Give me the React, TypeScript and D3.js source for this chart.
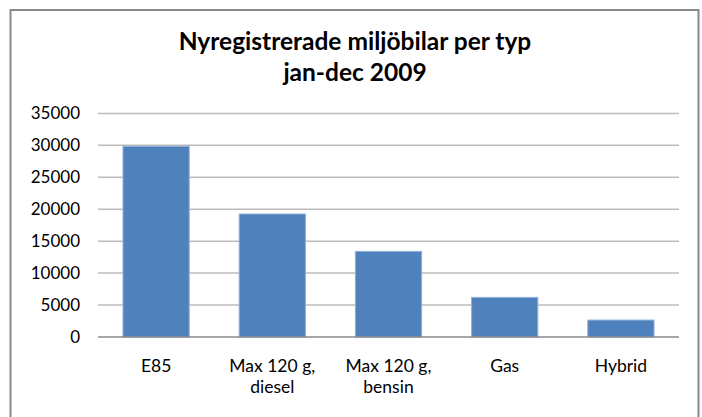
import React from 'react';
import * as d3 from 'd3';

const categories = ['E85', 'Max 120 g, diesel', 'Max 120 g, bensin', 'Gas', 'Hybrid'];
const categoryLines = [['E85'], ['Max 120 g,', 'diesel'], ['Max 120 g,', 'bensin'], ['Gas'], ['Hybrid']];
const values = [29850, 19250, 13400, 6200, 2650];
const yTicks = [0, 5000, 10000, 15000, 20000, 25000, 30000, 35000];
const titleLines = ['Nyregistrerade miljöbilar per typ', 'jan-dec 2009'];

const width = 702;
const height = 417;
const font = 'Lato, "Open Sans", sans-serif';

const App: React.FC = () => {
  const x = d3.scaleBand<string>()
    .domain(categories)
    .range([98, 679])
    .paddingInner(0.43)
    .paddingOuter(0.215);

  const y = d3.scaleLinear()
    .domain([0, 35000])
    .range([337, 113.4]);

  return (
    <svg width={width} height={height} style={{ position: 'absolute', left: 0, top: 0 }}>
      <rect x={0} y={0} width={width} height={height} fill="#fff" />
      {/* chart border */}
      <path d={`M10.5,${height + 2} V10 H698.5 V${height + 2}`} fill="none" stroke="#898989" strokeWidth={2} />

      {titleLines.map((t, i) => (
        <text key={t} x={355} y={50 + i * 31} textAnchor="middle" fontFamily={font}
          fontWeight="bold" fontSize={24.5} fill="#000">{t}</text>
      ))}

      {/* gridlines */}
      {yTicks.filter(t => t > 0).map(t => (
        <line key={t} x1={98} x2={679} y1={y(t)} y2={y(t)} stroke="#bcbcbc" strokeWidth={1.5} />
      ))}

      {/* y tick labels */}
      {yTicks.map(t => (
        <text key={t} x={80} y={y(t)} dy="0.35em" textAnchor="end" fontFamily={font}
          fontSize={17} fill="#000">{t}</text>
      ))}

      {/* bars */}
      {values.map((v, i) => (
        <rect key={categories[i]} x={x(categories[i])!} y={y(v)} width={x.bandwidth()}
          height={y(0) - y(v)} fill="#4f81bd" stroke="#8fb0dc" strokeWidth={1} />
      ))}

      {/* baseline axis */}
      <line x1={98} x2={679} y1={y(0)} y2={y(0)} stroke="#8a8a8a" strokeWidth={1.5} />

      {/* category labels */}
      {categories.map((c, i) => (
        <text key={c} x={x(c)! + x.bandwidth() / 2} y={372} textAnchor="middle"
          fontFamily={font} fontSize={17.5} fill="#000">
          {categoryLines[i].map((l, j) => (
            <tspan key={l} x={x(c)! + x.bandwidth() / 2} dy={j === 0 ? 0 : 21}>{l}</tspan>
          ))}
        </text>
      ))}
    </svg>
  );
};

export default App;
